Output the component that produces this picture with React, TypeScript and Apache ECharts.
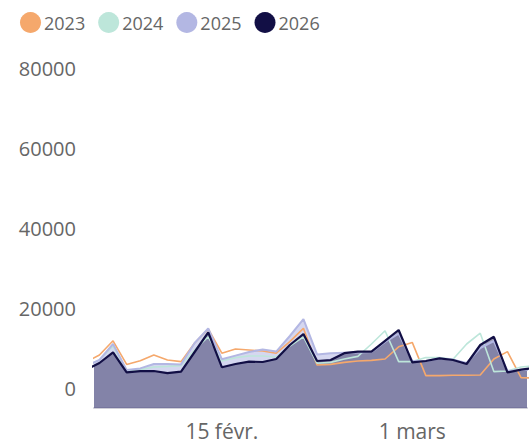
import React, { useEffect, useRef } from "react";
import * as echarts from "echarts";

// daily dates Feb 5 2026 .. Mar 10 2026
const startDay = [2026, 1, 5];
const dayCount = 34;
const dates: number[] = Array.from({ length: dayCount }, (_, i) =>
  new Date(startDay[0], startDay[1], startDay[2] + i).getTime()
);

const years = ["2023", "2024", "2025", "2026"];
const colors = ["#F5A86C", "#BDE6DA", "#B3B7E3", "#120F45"];

// Feb5 ... Mar10
const v2023 = [
  6500, 8250, 11800, 5900, 6800, 8250, 7000, 6600, 11250, 14750,
  8700, 9750, 9500, 9250, 8700, 11600, 14900, 5750, 5900, 6400,
  6750, 6900, 7250, 10300, 11400, 3100, 3100, 3200, 3200, 3250,
  7250, 9100, 2600, 2500,
];
const v2024 = [
  5500, 7000, 10500, 4250, 4600, 5250, 5400, 5600, 9500, 12800,
  6750, 7600, 8000, 8000, 7750, 10500, 12800, 6200, 6400, 7250,
  7900, 11000, 14300, 6600, 6600, 7600, 7600, 7200, 11000, 13700,
  4100, 4250, 5250, 5500,
];
const v2025 = [
  5500, 7000, 11000, 4500, 4900, 6000, 6000, 5900, 11250, 14900,
  7200, 8100, 9000, 9600, 9100, 13000, 17200, 8400, 8700, 8800,
  8900, 9000, 11500, 13600, 6750, 6750, 7400, 7100, 6250, 10000,
  11750, 4250, 4500, 4600,
];
const v2026 = [
  4500, 6250, 8900, 3900, 4200, 4250, 3700, 4100, 9000, 13900,
  5200, 6000, 6600, 6500, 7250, 10750, 13500, 6750, 7000, 8700,
  9100, 9100, 11800, 14500, 6400, 6750, 7400, 7000, 6000, 10750,
  12800, 3900, 4600, 5000,
];
const values = [v2023, v2024, v2025, v2026];

const yTickLabels = ["0", "20000", "40000", "60000", "80000"];
const xTickLabels: { month: number; day: number; text: string }[] = [
  { month: 1, day: 15, text: "15 févr." },
  { month: 2, day: 1, text: "1 mars" },
];

const FONT = "'Open Sans', 'Noto Sans', sans-serif";

export default function App() {
  const ref = useRef<HTMLDivElement>(null);
  useEffect(() => {
    if (!ref.current) return;
    const chart = echarts.init(ref.current, null, { renderer: "svg" });
    const pair = (arr: number[]) => arr.map((v, i) => [dates[i], v]);
    const lineSeries = years.map((y, k) => ({
      name: y,
      type: "line",
      data: pair(values[k]),
      symbol: "none",
      z: 3,
      lineStyle: { color: colors[k], width: k === 3 ? 2.2 : k === 2 ? 2 : 1.6 },
      itemStyle: { color: colors[k] },
      clip: true,
    }));
    const areaSeries = [
      { k: 2, op: 0.55 },
      { k: 3, op: 0.42 },
    ].map(({ k, op }) => ({
      name: "area" + years[k],
      type: "line",
      data: pair(values[k]),
      symbol: "none",
      z: 2,
      lineStyle: { width: 0 },
      areaStyle: { color: colors[k], opacity: op, origin: "start" },
      clip: true,
      silent: true,
    }));
    chart.setOption({
      animation: false,
      legend: {
        data: years.map((y, k) => ({ name: y, itemStyle: { color: colors[k] } })),
        left: 15,
        top: 7,
        icon: "circle",
        itemWidth: 21,
        itemHeight: 21,
        itemGap: 13,
        textStyle: { color: "#666666", fontSize: 18, fontFamily: FONT, padding: [0, 0, 0, -2] },
      },
      grid: {
        left: 94,
        right: 5,
        top: 68,
        bottom: 36,
        containLabel: false,
        outerBoundsMode: "none",
      },
      xAxis: {
        type: "time",
        min: new Date(2026, 1, 5, 14, 24).getTime(),
        max: new Date(2026, 2, 9, 10, 30).getTime(),
        splitNumber: 32,
        axisLine: { show: true, onZero: false, lineStyle: { color: "#cfcfd8", width: 2 } },
        axisTick: { show: false },
        splitLine: { show: false },
        axisLabel: {
          color: "#666666",
          fontSize: 21,
          fontFamily: FONT,
          margin: 12,
          hideOverlap: false,
          formatter: (val: number) => {
            const d = new Date(val);
            const m = xTickLabels.find((t) => t.month === d.getMonth() && t.day === d.getDate());
            return m && d.getHours() === 0 ? m.text : "";
          },
        },
      },
      yAxis: {
        type: "value",
        min: -5000,
        max: 80000,
        interval: 5000,
        axisLine: { show: false },
        axisTick: { show: false },
        splitLine: { show: false },
        axisLabel: {
          color: "#666666",
          fontSize: 20,
          fontFamily: FONT,
          margin: 18,
          formatter: (v: number) => {
            const s = String(v);
            return yTickLabels.includes(s) ? s : "";
          },
        },
      },
      series: [...areaSeries, ...lineSeries],
    });
    return () => chart.dispose();
  }, []);
  return (
    <div
      ref={ref}
      style={{ position: "absolute", left: 0, top: 0, width: 532, height: 444 }}
    />
  );
}
